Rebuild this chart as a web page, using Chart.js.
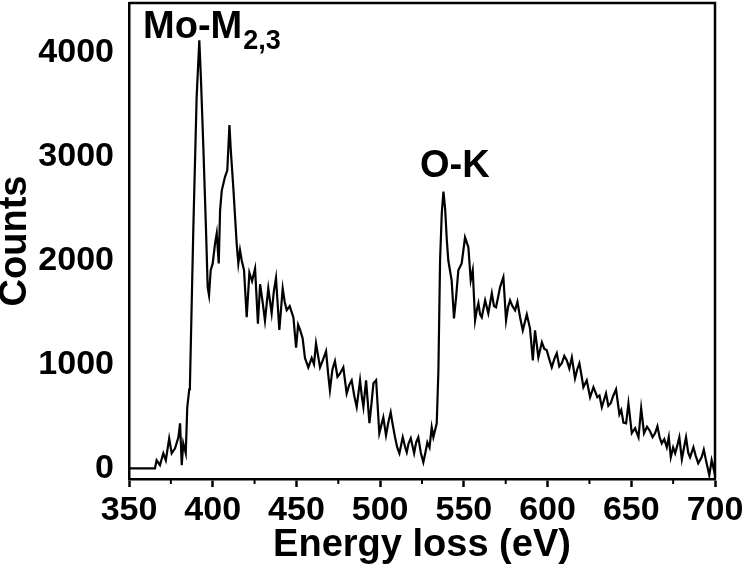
<!DOCTYPE html>
<html>
<head>
<meta charset="utf-8">
<script src="https://cdn.jsdelivr.net/npm/chart.js@4.4.1/dist/chart.umd.min.js"></script>
<style>
  body { margin: 0; background: #fff; }
  canvas { display: block; }
</style>
</head>
<body>
<canvas id="eelsChart" width="744" height="572"></canvas>
<script>
// EELS spectrum (energy in eV, counts)
const energy = [
  350, 365.5, 366.5, 368.5, 370.5, 372, 374, 375.5, 377.5, 379.5,
  380.5, 381.5, 382.4, 383.9, 384.8, 386, 386.4, 388.4, 390.4, 392,
  393, 394.4, 396, 397, 397.8, 398.8, 400, 401.4, 402.4, 403.6,
  404.4, 405.4, 407.3, 408.7, 410, 410.8, 412.3, 414.3, 415.3, 416.3,
  417.3, 418.7, 420.3, 421.9, 423.5, 425.3, 427, 428.3, 429.8, 431.2,
  433.2, 435.2, 436.5, 437.8, 439.8, 441.8, 443, 444.2, 446, 448.2,
  449.8, 451, 452.2, 453.7, 455.1, 457.1, 459.1, 460.5, 461.7, 464.1,
  466, 467.7, 469, 470, 471.5, 473, 474.5, 476, 478, 480,
  481.5, 483, 484.5, 486, 488, 489, 490, 491.6, 493.6, 495,
  496, 497.6, 499.5, 500.8, 501.9, 503.5, 505, 506.3, 507.5, 508.9,
  510.2, 511.5, 513.5, 515, 515.9, 517, 518.3, 520.3, 521.5, 522.8,
  524.3, 525.8, 527, 528.2, 529.5, 530.8, 531.8, 533.8, 534.8, 535.8,
  536.8, 537.8, 538.8, 539.8, 540.7, 542.7, 544.1, 545.4, 546.7, 548.7,
  550.7, 552.7, 554.1, 555.3, 556.7, 557.7, 558.7, 559.7, 560.7, 562.7,
  564.6, 566.7, 568, 569.2, 570.5, 571.6, 573.6, 575.2, 576.4, 577.6,
  579, 580.6, 582, 583.6, 585.2, 587.6, 589.5, 591.2, 592.5, 594.5,
  596.6, 598, 599.5, 601, 602.5, 604, 605.5, 607, 608.5, 610,
  611.5, 613, 614.5, 616.4, 617.7, 619, 620.2, 621.4, 623.4, 625.4,
  627.4, 629.7, 631, 632.4, 634.9, 636.3, 637.7, 639.3, 640.9, 642.9,
  644, 645.3, 646.9, 648.3, 650.3, 652.3, 654.3, 655.9, 657.6, 659.4,
  661.2, 662.7, 664.2, 665.6, 666.9, 668.2, 669.7, 671.2, 672.4, 673.6,
  675, 676.2, 677.5, 678.7, 680.2, 681.5, 682.7, 684, 685.1, 687.1,
  688.5, 690, 692, 693.3, 694.6, 696.6, 698, 699.4, 700
];
const counts = [
  0, 0, 77, 30, 144, 77, 288, 144, 192, 298,
  433, 30, 240, 144, 587, 760, 800, 2290, 3570, 4115,
  3730, 3090, 2290, 1740, 1663, 1904, 1970, 2163, 2260, 1970,
  2480, 2670, 2800, 2865, 3300, 3058, 2700, 2163, 1970, 2096,
  2000, 1904, 1452, 1880, 1800, 1920, 1390, 1770, 1600, 1420,
  1730, 1490, 1700, 1830, 1330, 1730, 1600, 1520, 1560, 1450,
  1160, 1380, 1330, 1250, 1060, 970, 1060, 1000, 1200, 970,
  1050, 1125, 900, 750, 950, 1030, 880, 910, 970, 720,
  800, 846, 700, 590, 846, 700, 590, 846, 433, 650,
  817, 846, 337, 420, 490, 317, 450, 538, 420, 298,
  200, 144, 298, 200, 154, 240, 288, 144, 250, 298,
  150, 58, 150, 250, 200, 394, 300, 433, 940, 2000,
  2450, 2660, 2500, 2200, 2000, 1808, 1442, 1650, 1904, 1970,
  2220, 2125, 1808, 1904, 1423, 1520, 1587, 1480, 1452, 1615,
  1490, 1683, 1560, 1548, 1650, 1740, 1837, 1423, 1550, 1615,
  1560, 1519, 1600, 1450, 1327, 1480, 1346, 1038, 1327, 1067,
  1212, 1150, 1135, 1050, 971, 1050, 1106, 980, 1010, 1080,
  1038, 960, 1067, 865, 950, 1010, 900, 780, 846, 683,
  780, 683, 700, 587, 721, 600, 625, 700, 760, 519,
  560, 440, 433, 625, 337, 385, 298, 577, 337, 400,
  356, 300, 337, 404, 300, 240, 280, 202, 300, 106,
  200, 144, 220, 298, 87, 200, 298, 150, 106, 202,
  120, 48, 106, 180, 77, -67, 77, -20, 60
];

const xTicks = [350, 400, 450, 500, 550, 600, 650, 700];
const xMinorTicks = [375, 425, 475, 525, 575, 625, 675];
const yTicks = [0, 1000, 2000, 3000, 4000];

const fontFamily = "'Liberation Sans', Arial, Helvetica, sans-serif";

// top/right frame lines, minor x ticks and the two edge labels
const framePlugin = {
  id: 'frame',
  afterDraw(chart) {
    const ctx = chart.ctx;
    const area = chart.chartArea;
    const xs = chart.scales.x;
    const ys = chart.scales.y;
    ctx.save();
    ctx.strokeStyle = '#000';
    ctx.lineWidth = 2.5;
    ctx.beginPath();
    ctx.moveTo(area.left, area.top);
    ctx.lineTo(area.right, area.top);
    ctx.lineTo(area.right, area.bottom);
    ctx.stroke();

    ctx.lineWidth = 2;
    xMinorTicks.forEach(v => {
      const px = xs.getPixelForValue(v);
      ctx.beginPath();
      ctx.moveTo(px, area.bottom);
      ctx.lineTo(px, area.bottom + 5);
      ctx.stroke();
    });

    ctx.fillStyle = '#000';
    ctx.textBaseline = 'alphabetic';
    ctx.textAlign = 'left';
    ctx.font = `bold 38px ${fontFamily}`;
    let x = xs.getPixelForValue(358.4);
    let y = ys.getPixelForValue(4135);
    ctx.fillText('Mo-M', x, y);
    const w = ctx.measureText('Mo-M').width;
    ctx.font = `bold 27px ${fontFamily}`;
    ctx.fillText('2,3', x + w + 1, y + 11);

    ctx.font = `bold 38px ${fontFamily}`;
    ctx.fillText('O-K', xs.getPixelForValue(523.8), ys.getPixelForValue(2798));
    ctx.restore();
  }
};

// keep the plot box where the figure has it
function noScalePadding(scale) {
  scale.paddingTop = 0;
  scale.paddingBottom = 0;
  scale.paddingLeft = 0;
  scale.paddingRight = 0;
}

let ctx = document.getElementById('eelsChart').getContext('2d');
var eelsChart = new Chart(ctx, {
  type: 'scatter',
  data: {
    datasets: [{
      data: energy.map((e, i) => ({ x: e, y: counts[i] })),
      showLine: true,
      borderColor: '#000',
      borderWidth: 2.2,
      pointRadius: 0,
      tension: 0
    }]
  },
  options: {
    responsive: false,
    animation: false,
    layout: { padding: { left: 0, right: 29, top: 3, bottom: 0 } },
    plugins: {
      legend: { display: false },
      tooltip: { enabled: false }
    },
    scales: {
      x: {
        type: 'linear',
        min: 350,
        max: 700,
        afterBuildTicks: scale => { scale.ticks = xTicks.map(v => ({ value: v })); },
        afterFit: scale => { scale.height = 93; noScalePadding(scale); },
        grid: { drawOnChartArea: false, drawTicks: true, tickLength: 8, tickWidth: 2.5, tickColor: '#000' },
        border: { display: true, color: '#000', width: 2.5 },
        ticks: {
          color: '#000',
          padding: 3,
          maxRotation: 0,
          callback: v => String(v),
          font: { family: fontFamily, size: 34, weight: 'bold' }
        },
        title: {
          display: true,
          text: 'Energy loss (eV)',
          color: '#000',
          padding: { top: 0, bottom: 4 },
          font: { family: fontFamily, size: 38, weight: 'bold' }
        }
      },
      y: {
        type: 'linear',
        min: -103,
        max: 4474,
        afterBuildTicks: scale => { scale.ticks = yTicks.map(v => ({ value: v })); },
        afterFit: scale => { scale.width = 129; noScalePadding(scale); },
        grid: { display: false, drawTicks: false },
        border: { display: true, color: '#000', width: 2.5 },
        ticks: {
          color: '#000',
          padding: 15,
          callback: v => String(v),
          font: { family: fontFamily, size: 34, weight: 'bold' }
        },
        title: {
          display: true,
          text: 'Counts',
          color: '#000',
          padding: { top: -3, bottom: 0 },
          font: { family: fontFamily, size: 38, weight: 'bold', lineHeight: 1 }
        }
      }
    }
  },
  plugins: [framePlugin]
});
</script>
</body>
</html>
